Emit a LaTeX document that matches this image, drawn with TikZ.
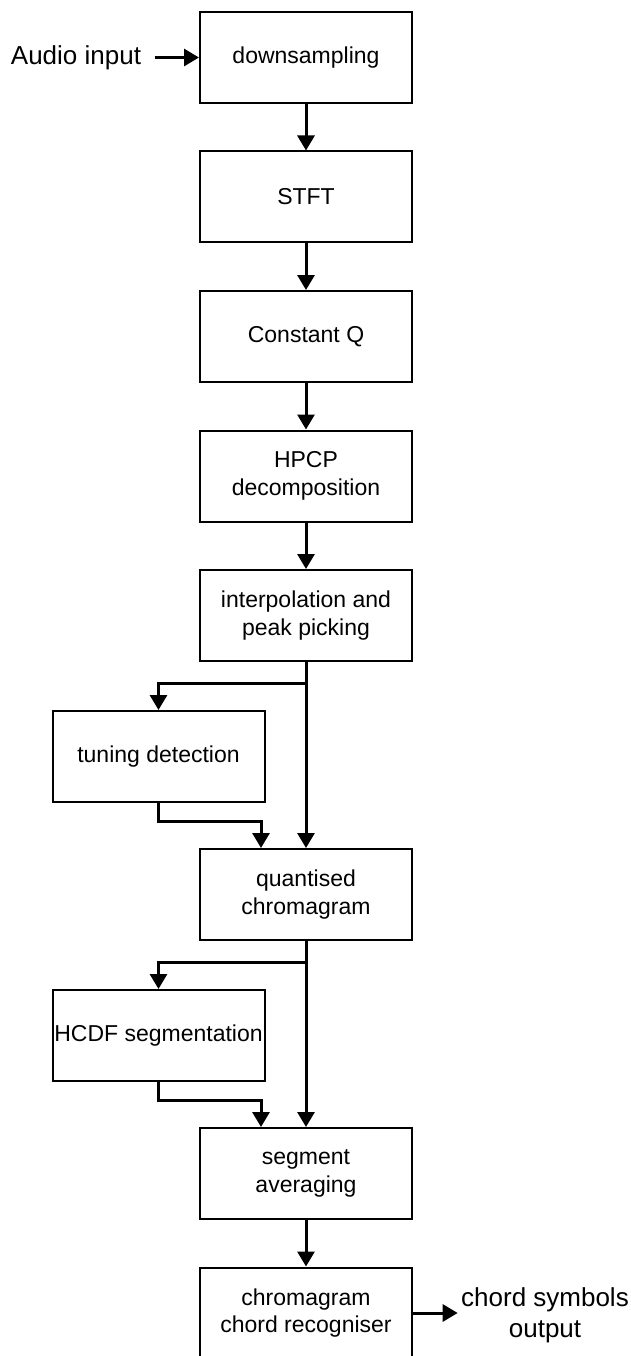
\documentclass[tikz,border=0pt]{standalone}
\usepackage{fontspec}
\setmainfont{Liberation Sans}
\usetikzlibrary{arrows.meta}
\tikzset{
  block/.style = {draw, line width=2pt, minimum width=212pt, minimum height=91pt,
                  inner sep=0pt, align=center, font=\fontsize{23}{27.6}\selectfont},
  flow/.style  = {line width=3pt, -{Triangle[length=15pt,width=17pt]}},
  outtext/.style = {align=center, font=\fontsize{26}{31}\selectfont}
}
\begin{document}
\begin{tikzpicture}[x=1pt,y=-1pt]
      \useasboundingbox (0,0) rectangle (630,1356);
      % main column
      \node[block] at (306,57.5) (down) {downsampling};
      \node[block] at (306,197) (stft) {STFT};
      \node[block] at (306,336.5) (cq) {Constant Q};
      \node[block] at (306,476) (hpcp) {HPCP\\decomposition};
      \node[block] at (306,615.5) (interp) {interpolation and\\peak picking};
      \node[block] at (306,894.5) (quant) {quantised\\chromagram};
      \node[block] at (306,1173.5) (avg) {segment\\averaging};
      \node[block] at (306,1313) (recog) {chromagram\\chord recogniser};
      % side column
      \node[block] at (158.5,756.5) (tune) {tuning detection};
      \node[block] at (158.5,1035.5) (hcdf) {HCDF segmentation};
      % input and output
      \node[outtext] at (76,58) (audio) {Audio input};
      \node[outtext] at (545,1315) (out) {chord symbols\\output};
      \draw[flow] ([xshift=10pt]audio.east |- down.west) -- (down.west);
      \draw[flow] (recog.east) -- (recog.east -| out.west);
      % straight arrows
      \draw[flow] (down) -- (stft);
      \draw[flow] (stft) -- (cq);
      \draw[flow] (cq) -- (hpcp);
      \draw[flow] (hpcp) -- (interp);
      \draw[flow] (interp) -- (quant);
      \draw[flow] (quant) -- (avg);
      \draw[flow] (avg) -- (recog);
      % first branch
      \coordinate (split1) at (306,683);
      \coordinate (merge1) at (261,821);
      \draw[flow] (split1) -| (tune.north);
      \draw[flow] (tune.south) |- (merge1) -- (merge1 |- quant.north);
      % second branch
      \coordinate (split2) at (306,962);
      \coordinate (merge2) at (261,1100);
      \draw[flow] (split2) -| (hcdf.north);
      \draw[flow] (hcdf.south) |- (merge2) -- (merge2 |- avg.north);
\end{tikzpicture}
\end{document}
